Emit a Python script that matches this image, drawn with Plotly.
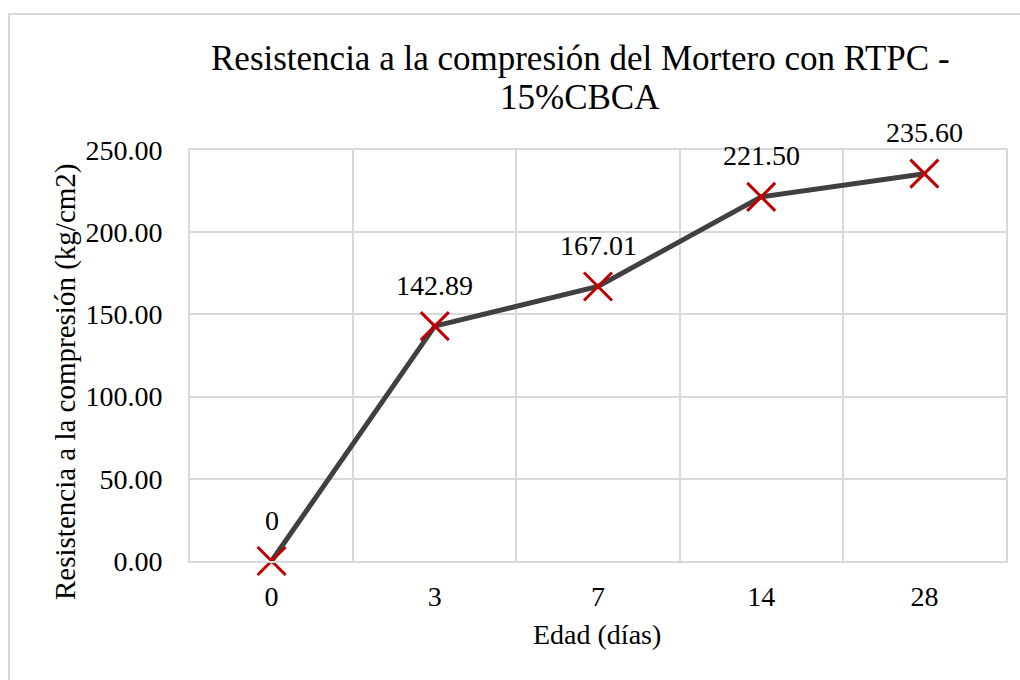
import plotly.graph_objects as go

categories = ["0", "3", "7", "14", "28"]
values = [0, 142.89, 167.01, 221.50, 235.60]
labels = ["0", "142.89", "167.01", "221.50", "235.60"]

title_lines = ["Resistencia a la compresión del Mortero con RTPC -", "15%CBCA"]
x_title = "Edad (días)"
y_title = "Resistencia a la compresión (kg/cm2)"

FONT = "Times New Roman"
GRID = "#d9d9d9"

fig = go.Figure()
fig.add_trace(go.Scatter(
    x=categories, y=values, mode="lines+markers",
    line=dict(color="#404040", width=5),
    marker=dict(symbol="x-thin", size=28, line=dict(color="#c00000", width=3), color="#c00000"),
    showlegend=False, hoverinfo="skip", cliponaxis=False,
))

L, R, T, B = 190, 14, 150, 119
W, H = 1020, 680
pw, ph = W - L - R, H - T - B

def px_x(px):
    return (px - L) / pw

def px_y(py):
    return (H - B - py) / ph

annotations = []
for i, (v, t) in enumerate(zip(values, labels)):
    annotations.append(dict(x=i, y=v, text=t, showarrow=False, yshift=41,
                            yanchor="middle", font=dict(family=FONT, size=28, color="#000000")))

for line, ypx in zip(title_lines, [58, 98]):
    annotations.append(dict(xref="paper", yref="paper", x=px_x(580), y=px_y(ypx), text=line,
                            showarrow=False, xanchor="center", yanchor="middle",
                            font=dict(family=FONT, size=35, color="#000000")))
annotations.append(dict(xref="paper", yref="paper", x=px_x(65), y=px_y(382), text=y_title,
                        showarrow=False, textangle=-90, xanchor="center", yanchor="middle",
                        font=dict(family=FONT, size=29, color="#000000")))
annotations.append(dict(xref="paper", yref="paper", x=px_x(597), y=px_y(634), text=x_title,
                        showarrow=False, xanchor="center", yanchor="middle",
                        font=dict(family=FONT, size=28, color="#000000")))

shapes = [dict(type="rect", xref="paper", yref="paper",
               x0=px_x(9), y0=px_y(700), x1=px_x(1040), y1=px_y(14),
               line=dict(color=GRID, width=2), fillcolor="rgba(0,0,0,0)", layer="below")]

fig.update_layout(
    width=W, height=H,
    margin=dict(l=L, r=R, t=T, b=B),
    paper_bgcolor="white", plot_bgcolor="white",
    annotations=annotations, shapes=shapes,
    xaxis=dict(type="category", range=[-0.5, 4.5], tickson="boundaries",
               showgrid=True, gridcolor=GRID, gridwidth=2,
               showline=True, linecolor=GRID, linewidth=2, mirror=True,
               ticks="", ticklabelstandoff=9, zeroline=False,
               tickfont=dict(family=FONT, size=28, color="#000000")),
    yaxis=dict(range=[0, 250], dtick=50, tickformat=".2f",
               showgrid=True, gridcolor=GRID, gridwidth=2,
               showline=True, linecolor=GRID, linewidth=2, mirror=True,
               ticks="", ticklabelstandoff=20, zeroline=False,
               tickfont=dict(family=FONT, size=28, color="#000000")),
)

fig.write_html("out.html")
